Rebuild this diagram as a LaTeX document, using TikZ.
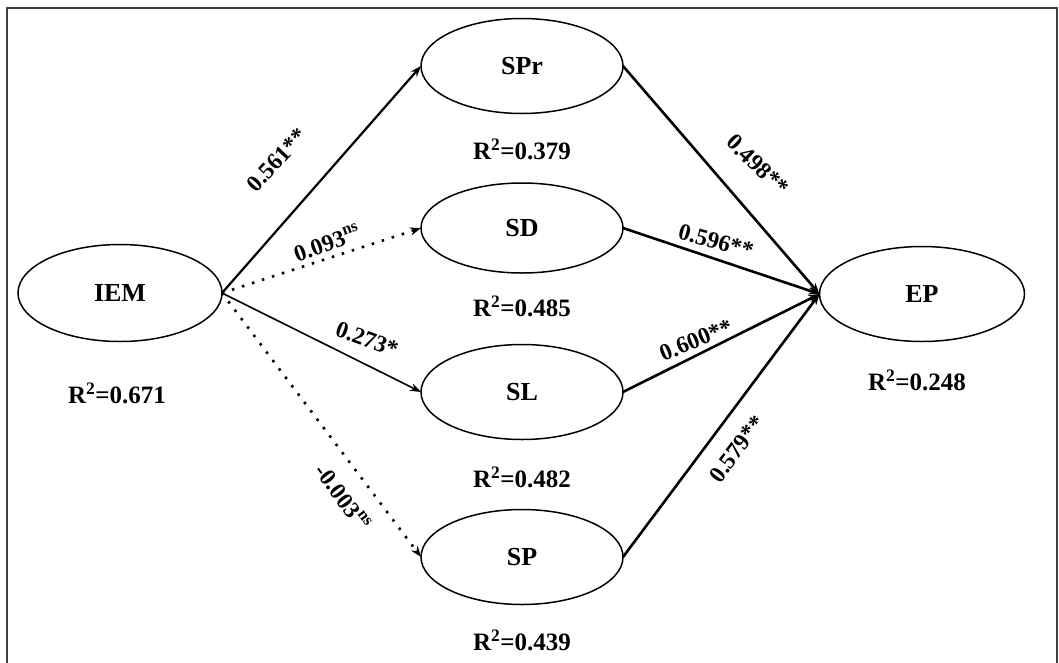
\documentclass[tikz,border=0pt]{standalone}
\usepackage{fontspec}
\setmainfont{Liberation Serif}
\usetikzlibrary{shapes.geometric,arrows.meta}
\begin{document}
\begin{tikzpicture}[x=1pt,y=-1pt,
  lat/.style={ellipse,draw=black,line width=1.5pt,inner sep=0pt,outer sep=0pt,
    minimum width=202pt,minimum height=95pt,font=\fontsize{26}{28}\selectfont\bfseries},
  rsq/.style={font=\fontsize{25}{27}\selectfont\bfseries,inner sep=0pt},
  coef/.style={font=\fontsize{23.5}{25}\selectfont\bfseries,inner sep=0pt},
  tip/.style={-{Stealth[length=11pt,width=8pt]}},
  thickpath/.style={tip,line width=2.6pt},
  thinpath/.style={tip,line width=1.6pt},
  dotpath/.style={tip,line width=2.6pt,dash pattern=on 2.5pt off 8pt},
  frameline/.style={draw=black!75,line width=2pt}
]
\useasboundingbox (0,0) rectangle (1059,662);
\fill[white] (0,0) rectangle (1059,662);
\draw[frameline] (7,670) -- (7,8) -- (1057,8) -- (1057,670);

\node[lat,minimum width=204pt,minimum height=97pt] (iem) at (120,293) {IEM};
\node[lat] (spr) at (522,66) {SPr};
\node[lat,minimum height=90pt] (sd) at (522,228) {SD};
\node[lat] (sl) at (522,392) {SL};
\node[lat] (sp) at (522,557) {SP};
\node[lat,minimum width=205pt] (ep) at (922,294) {EP};

\node[rsq] (r1) at (117,393) {R\textsuperscript{2}=0.671};
\node[rsq] (r2) at (522,149) {R\textsuperscript{2}=0.379};
\node[rsq] (r3) at (522,306) {R\textsuperscript{2}=0.485};
\node[rsq] (r4) at (522,477) {R\textsuperscript{2}=0.482};
\node[rsq] (r5) at (522,640) {R\textsuperscript{2}=0.439};
\node[rsq] (r6) at (917,380) {R\textsuperscript{2}=0.248};

\draw[thickpath,line width=2.2pt] (iem.east) -- (spr.west);
\draw[dotpath] (iem.east) -- (sd.west);
\draw[thinpath] (iem.east) -- (sl.west);
\draw[dotpath] (iem.east) -- (sp.west);

\draw[thickpath] (spr.east) -- (ep.west);
\draw[thickpath] (sd.east) -- (ep.west);
\draw[thickpath] (sl.east) -- (ep.west);
\draw[thickpath] (sp.east) -- (ep.west);

\node[coef,rotate=47] (c1) at (277,160) {0.561**};
\node[coef,rotate=20] (c2) at (327,243) {0.093\textsuperscript{ns}};
\node[coef,rotate=-20] (c3) at (367,339) {0.273*};
\node[coef,rotate=-53] (c4) at (343,497) {-0.003\textsuperscript{ns}};
\node[coef,rotate=-44] (c5) at (758,165) {0.498**};
\node[coef,rotate=-15] (c6) at (716,241) {0.596**};
\node[coef,rotate=22] (c7) at (696,340) {0.600**};
\node[coef,rotate=53] (c8) at (737,449) {0.579**};
\end{tikzpicture}
\end{document}
